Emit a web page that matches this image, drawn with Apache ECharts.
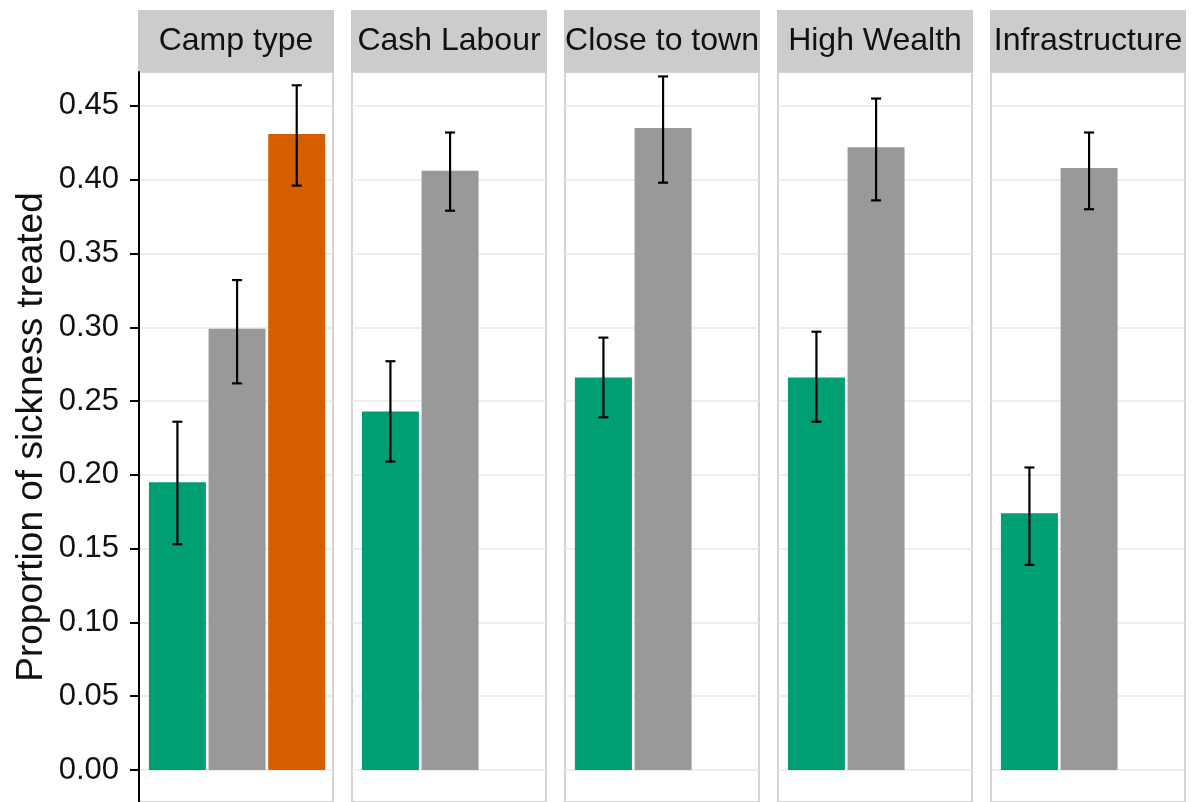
<!DOCTYPE html>
<html>
<head>
<meta charset="utf-8">
<script src="https://cdn.jsdelivr.net/npm/echarts@6/dist/echarts.min.js"></script>
<style>
html,body{margin:0;padding:0;background:#fff;}
#c{width:1192px;height:802px;}
</style>
</head>
<body>
<div id="c"></div>
<script>
// ---- data ----
const panels = ['Camp type', 'Cash Labour', 'Close to town', 'High Wealth', 'Infrastructure'];
const groupColors = ['#009E73', '#999999', '#D55E00'];
// group 1 (green)
const greenMean = [0.195, 0.243, 0.266, 0.266, 0.174];
const greenLow  = [0.153, 0.209, 0.239, 0.236, 0.139];
const greenHigh = [0.236, 0.277, 0.293, 0.297, 0.205];
// group 2 (grey)
const greyMean = [0.299, 0.406, 0.435, 0.422, 0.408];
const greyLow  = [0.262, 0.379, 0.398, 0.386, 0.380];
const greyHigh = [0.332, 0.432, 0.470, 0.455, 0.432];
// group 3 (orange) only in first panel
const orangeMean = [0.431, null, null, null, null];
const orangeLow  = [0.396, null, null, null, null];
const orangeHigh = [0.464, null, null, null, null];
const yTicks = [0, 0.05, 0.10, 0.15, 0.20, 0.25, 0.30, 0.35, 0.40, 0.45];
const yTitle = 'Proportion of sickness treated';

const means = [greenMean, greyMean, orangeMean];
const lows = [greenLow, greyLow, orangeLow];
const highs = [greenHigh, greyHigh, orangeHigh];

// ---- layout ----
const FONT = 'Liberation Sans, Arial, sans-serif';
const PANEL_LEFT0 = 139, PANEL_STEP = 213, PANEL_W = 194;
const PANEL_TOP = 72, PANEL_H = 730;
const Y_MIN = -0.0217, Y_MAX = 0.473;

const grids = [], xAxes = [], yAxes = [], series = [], graphics = [];

panels.forEach((name, i) => {
  const left = PANEL_LEFT0 + i * PANEL_STEP;
  grids.push({
    left: left, top: PANEL_TOP, width: PANEL_W, height: PANEL_H,
    show: true, backgroundColor: '#ffffff', borderColor: '#d3d3d3', borderWidth: 2
  });
  xAxes.push({
    type: 'value', gridIndex: i, min: 0.356, max: 3.608,
    axisLine: {show: false}, axisTick: {show: false}, axisLabel: {show: false},
    splitLine: {show: false}
  });
  yAxes.push({
    type: 'value', gridIndex: i, min: Y_MIN, max: Y_MAX,
    name: i === 0 ? yTitle : '',
    nameLocation: 'middle', nameGap: 89, nameRotate: 90,
    nameTextStyle: {fontFamily: FONT, fontSize: 37, color: '#111'},
    axisLine: {show: i === 0, onZero: false, lineStyle: {color: '#000', width: 2}},
    axisTick: {show: i === 0, customValues: yTicks, length: 9, lineStyle: {color: '#000', width: 2}},
    axisLabel: {show: i === 0, customValues: yTicks, margin: 20,
      fontFamily: FONT, fontSize: 31, color: '#111',
      formatter: v => v.toFixed(2)},
    splitLine: {show: true, lineStyle: {color: '#e8e8e8', width: 1.5}}
  });
  const barData = [], errData = [];
  for (let g = 0; g < 3; g++) {
    const m = means[g][i];
    if (m == null) continue;
    barData.push({value: [g + 1, m], itemStyle: {color: groupColors[g]}});
    errData.push([g + 1, lows[g][i], highs[g][i]]);
  }
  series.push({
    type: 'bar', xAxisIndex: i, yAxisIndex: i, barWidth: 57,
    data: barData, z: 2, silent: true
  });
  series.push({
    type: 'custom', xAxisIndex: i, yAxisIndex: i, z: 5, silent: true,
    encode: {x: 0, y: [1, 2]},
    data: errData,
    renderItem: function (params, api) {
      const x = api.value(0), lo = api.value(1), hi = api.value(2);
      const p1 = api.coord([x, lo]), p2 = api.coord([x, hi]);
      const hw = 5;
      const st = {stroke: '#000', lineWidth: 2.2};
      return {
        type: 'group',
        children: [
          {type: 'line', shape: {x1: p1[0], y1: p1[1], x2: p2[0], y2: p2[1]}, style: st},
          {type: 'line', shape: {x1: p1[0] - hw, y1: p1[1], x2: p1[0] + hw, y2: p1[1]}, style: st},
          {type: 'line', shape: {x1: p2[0] - hw, y1: p2[1], x2: p2[0] + hw, y2: p2[1]}, style: st}
        ]
      };
    }
  });
  // strip
  graphics.push({
    type: 'rect', left: left - 1, top: 10,
    shape: {width: PANEL_W + 2, height: 62},
    style: {fill: '#cccccc'}, silent: true
  });
  graphics.push({
    type: 'text', x: left + PANEL_W / 2, y: 41,
    style: {text: name, fill: '#111', font: '32px ' + FONT,
      textAlign: 'center', textVerticalAlign: 'middle'},
    silent: true
  });
});

const chart = echarts.init(document.getElementById('c'), null, {renderer: 'canvas'});
chart.setOption({
  animation: false,
  backgroundColor: '#ffffff',
  grid: grids, xAxis: xAxes, yAxis: yAxes, series: series, graphic: graphics
});
</script>
</body>
</html>
